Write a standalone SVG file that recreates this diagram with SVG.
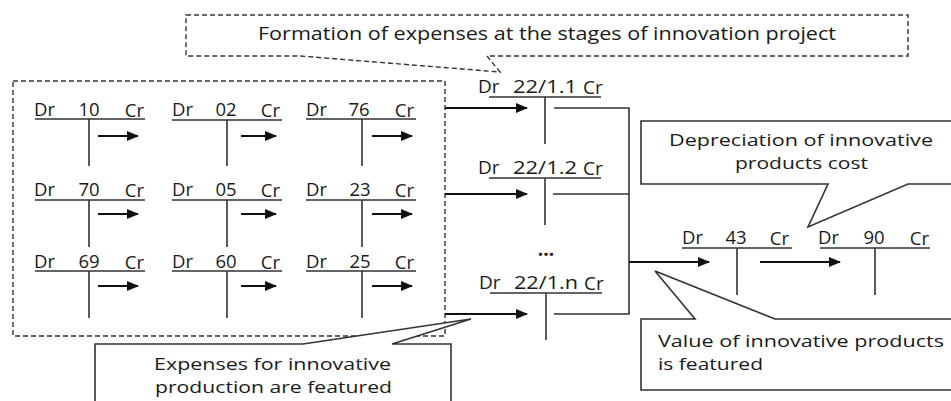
<svg xmlns="http://www.w3.org/2000/svg" width="951" height="401" viewBox="0 0 951 401">
<defs>
<marker id="ah" markerWidth="12" markerHeight="10" refX="11" refY="5" orient="auto" markerUnits="userSpaceOnUse">
<path d="M0,0 L12,5 L0,10 Z" fill="#111"/>
</marker>
<style>
.t{font-family:"Open Sans","Noto Sans","DejaVu Sans",sans-serif;font-size:18.5px;fill:#1a1a1a}
.c{font-family:"Open Sans","Noto Sans","DejaVu Sans",sans-serif;font-size:19px;fill:#1a1a1a}
.k{font-family:"Open Sans","Noto Sans","DejaVu Sans",sans-serif;font-size:17px;fill:#1a1a1a}
.l{stroke:#333;stroke-width:1.6;fill:none}
.d{stroke:#333;stroke-width:1.4;fill:none;stroke-dasharray:5,3}
.a{stroke:#111;stroke-width:2;fill:none;marker-end:url(#ah)}
.b{stroke:#333;stroke-width:1.6;fill:#fff}
.m{text-anchor:middle}
.e{text-anchor:end}
</style>
</defs>
<rect width="951" height="401" fill="#fff"/>

<!-- top dashed callout -->
<g id="callout-formation">
<path class="d" d="M186,15 H908 V56 H487 L500,72 L300,56 H186 Z" fill="#fff"/>
<text class="c" x="258" y="40" textLength="578" lengthAdjust="spacingAndGlyphs">Formation of expenses at the stages of innovation project</text>
</g>

<!-- left dashed group -->
<g id="group-accounts">
<rect class="d" x="13" y="81" width="432" height="255"/>
</g>

<g id="acc-10"><text class="t" x="34" y="116">Dr</text><text class="t m" x="89" y="116">10</text><text class="t e" x="144" y="117">Cr</text><path class="l" d="M35,119 H145 M89,119 V166"/><path class="a" d="M98,136 H138"/></g>
<g id="acc-02"><text class="t" x="172" y="116">Dr</text><text class="t m" x="226" y="116">02</text><text class="t e" x="280" y="117">Cr</text><path class="l" d="M172,120 H282 M227,120 V166"/><path class="a" d="M241,136 H276"/></g>
<g id="acc-76"><text class="t" x="306" y="116">Dr</text><text class="t m" x="359" y="116">76</text><text class="t e" x="414" y="117">Cr</text><path class="l" d="M306,119 H416 M362,119 V166"/><path class="a" d="M372,136 H412"/></g>

<g id="acc-70"><text class="t" x="34" y="196">Dr</text><text class="t m" x="89" y="196">70</text><text class="t e" x="144" y="197">Cr</text><path class="l" d="M35,200 H145 M89,200 V247"/><path class="a" d="M98,214 H138"/></g>
<g id="acc-05"><text class="t" x="172" y="196">Dr</text><text class="t m" x="226" y="196">05</text><text class="t e" x="280" y="197">Cr</text><path class="l" d="M172,200 H282 M227,200 V247"/><path class="a" d="M241,214 H276"/></g>
<g id="acc-23"><text class="t" x="306" y="196">Dr</text><text class="t m" x="360" y="196">23</text><text class="t e" x="414" y="197">Cr</text><path class="l" d="M306,200 H416 M362,200 V247"/><path class="a" d="M372,214 H412"/></g>

<g id="acc-69"><text class="t" x="34" y="268">Dr</text><text class="t m" x="89" y="268">69</text><text class="t e" x="144" y="269">Cr</text><path class="l" d="M35,271 H145 M89,271 V318"/><path class="a" d="M98,286 H138"/></g>
<g id="acc-60"><text class="t" x="172" y="268">Dr</text><text class="t m" x="226" y="268">60</text><text class="t e" x="280" y="269">Cr</text><path class="l" d="M172,271 H282 M227,271 V318"/><path class="a" d="M241,286 H276"/></g>
<g id="acc-25"><text class="t" x="306" y="268">Dr</text><text class="t m" x="360" y="268">25</text><text class="t e" x="414" y="269">Cr</text><path class="l" d="M306,271 H416 M362,271 V318"/><path class="a" d="M372,286 H412"/></g>

<!-- 22/1.x accounts -->
<g id="acc-22-1-1"><text class="c" x="478" y="93">Dr</text><text class="c" x="513" y="93" textLength="64" lengthAdjust="spacingAndGlyphs">22/1.1</text><text class="c" x="583" y="94">Cr</text><path class="l" d="M489,97 H601 M545,97 V144"/></g>
<g id="acc-22-1-2"><text class="c" x="478" y="174">Dr</text><text class="c" x="513" y="174" textLength="64" lengthAdjust="spacingAndGlyphs">22/1.2</text><text class="c" x="583" y="175">Cr</text><path class="l" d="M489,178 H601 M545,178 V225"/></g>
<g id="dots"><text class="c m" x="546" y="256" font-weight="bold">...</text></g>
<g id="acc-22-1-n"><text class="c" x="479" y="289">Dr</text><text class="c" x="514" y="289" textLength="64" lengthAdjust="spacingAndGlyphs">22/1.n</text><text class="c" x="584" y="290">Cr</text><path class="l" d="M490,293 H602 M546,293 V340"/></g>

<!-- 43 and 90 -->
<g id="acc-43"><text class="t" x="682" y="244">Dr</text><text class="t m" x="736" y="244">43</text><text class="t e" x="789" y="245">Cr</text><path class="l" d="M682,248 H792 M737,248 V295"/></g>
<g id="acc-90"><text class="t" x="818" y="244">Dr</text><text class="t m" x="874" y="244">90</text><text class="t e" x="929" y="245">Cr</text><path class="l" d="M820,248 H930 M875,248 V295"/></g>

<!-- connectors -->
<g id="connectors">
<path class="a" d="M445,108 H527"/>
<path class="a" d="M445,194 H527"/>
<path class="a" d="M445,314 H527"/>
<path class="l" d="M554,108 H629 V314 H554 M553,194 H629"/>
<path class="a" d="M629,262 H709"/>
<path class="a" d="M760,262 H840"/>
</g>

<!-- depreciation callout -->
<g id="callout-depreciation">
<path class="b" d="M953,121 H641 V184 H828 L808,227 L908,184 H953"/>
<text class="k" x="669" y="146" textLength="264" lengthAdjust="spacingAndGlyphs">Depreciation of innovative</text>
<text class="k" x="735" y="169" textLength="133" lengthAdjust="spacingAndGlyphs">products cost</text>
</g>

<!-- value callout -->
<g id="callout-value">
<path class="b" d="M953,319 H775 L655,271 L695,319 H641 V390 H953"/>
<text class="k" x="658" y="347" textLength="286" lengthAdjust="spacingAndGlyphs">Value of innovative products</text>
<text class="k" x="658" y="370" textLength="105" lengthAdjust="spacingAndGlyphs">is featured</text>
</g>

<!-- expenses callout -->
<g id="callout-expenses">
<path class="b" d="M95,405 V344 H303 L471,319 L392,344 H451 V405"/>
<text class="k" x="154" y="370" textLength="237" lengthAdjust="spacingAndGlyphs">Expenses for innovative</text>
<text class="k" x="155" y="393" textLength="237" lengthAdjust="spacingAndGlyphs">production are featured</text>
</g>
</svg>
